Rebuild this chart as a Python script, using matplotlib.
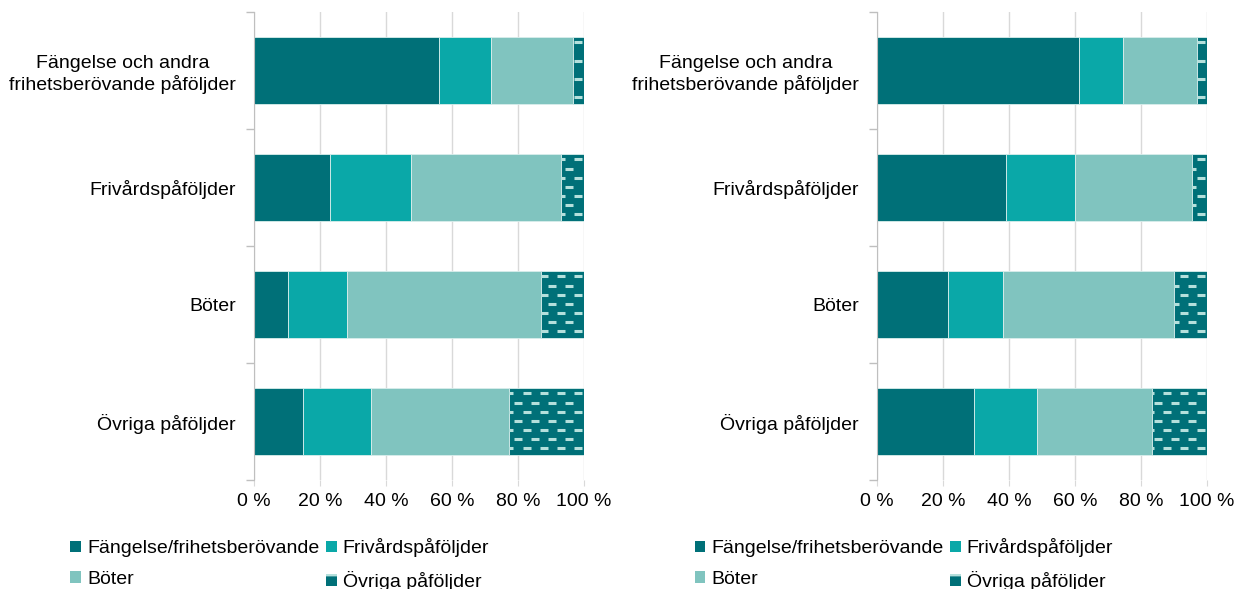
import matplotlib.pyplot as plt
from matplotlib.patches import Patch
from matplotlib.ticker import FixedLocator

plt.rcParams['font.family'] = ['Liberation Sans', 'DejaVu Sans']
plt.rcParams['hatch.linewidth'] = 2.0

categories = ["Fängelse och andra\nfrihetsberövande påföljder", "Frivårdspåföljder", "Böter", "Övriga påföljder"]
series = ["Fängelse/frihetsberövande", "Frivårdspåföljder", "Böter", "Övriga påföljder"]

# andel (%) per påföljd, vänster och höger diagram
left_fangelse = [56.2, 23.0, 10.4, 14.9]
left_frivard = [15.6, 24.6, 17.9, 20.6]
left_boter = [25.0, 45.4, 58.7, 41.9]
left_ovriga = [3.2, 7.0, 13.0, 22.6]

right_fangelse = [61.2, 39.0, 21.6, 29.5]
right_frivard = [13.3, 21.0, 16.6, 18.9]
right_boter = [22.5, 35.5, 51.9, 35.0]
right_ovriga = [3.0, 4.5, 9.9, 16.6]

xticks = [0, 20, 40, 60, 80, 100]
xticklabels = ["0 %", "20 %", "40 %", "60 %", "80 %", "100 %"]

colors = ["#007078", "#0aa8a8", "#80c4bf", "#007078"]
dash_color = "#b5e0dc"


def draw(ax, data):
    ypos = list(range(len(categories)))
    left = [0] * len(categories)
    for i, vals in enumerate(data):
        bars = ax.barh(ypos, vals, left=left, height=0.57, color=colors[i],
                       edgecolor="#d9eeec", linewidth=0.6, zorder=2)
        if i == 3:
            # streckat mönster för Övriga
            for b in bars:
                x0 = b.get_x()
                yb, yt = b.get_y(), b.get_y() + b.get_height()
                row = 0
                y = yb + 0.045
                while y < yt:
                    xs = []
                    x = 100 - 1.8 - (2.6 if row % 2 else 0)
                    while x > x0 - 3:
                        xs.append(x)
                        x -= 5.2
                    ln, = ax.plot(xs, [y] * len(xs), linestyle="none", marker="_",
                                  markersize=6, mew=2.2, color=dash_color, zorder=3)
                    ln.set_clip_path(b)
                    y += 0.078
                    row += 1
        left = [l + v for l, v in zip(left, vals)]

    ax.set_xlim(0, 100)
    ax.set_ylim(3.5, -0.5)
    ax.set_xticks(xticks)
    ax.set_xticklabels(xticklabels, fontsize=14)
    ax.set_yticks(ypos)
    ax.set_yticklabels(categories, fontsize=14)
    ax.tick_params(axis="y", length=0, pad=13)
    ax.tick_params(axis="x", length=4, color="#d9d9d9", pad=5)
    ax.yaxis.set_minor_locator(FixedLocator([-0.5, 0.5, 1.5, 2.5, 3.5]))
    ax.tick_params(axis="y", which="minor", length=6, color="#bfbfbf", width=1)
    for lab in ax.get_yticklabels():
        lab.set_horizontalalignment("right")
        lab.set_multialignment("center")
    ax.grid(axis="x", color="#d9d9d9", linewidth=1, zorder=0)
    ax.set_axisbelow(True)
    for s in ["top", "right", "bottom"]:
        ax.spines[s].set_visible(False)
    ax.spines["left"].set_color("#bfbfbf")


fig = plt.figure(figsize=(12.36, 5.89), dpi=100)
ax1 = fig.add_axes([254 / 1236, 1 - 480 / 589, 330 / 1236, 468 / 589])
ax2 = fig.add_axes([877 / 1236, 1 - 480 / 589, 330 / 1236, 468 / 589])

draw(ax1, [left_fangelse, left_frivard, left_boter, left_ovriga])
draw(ax2, [right_fangelse, right_frivard, right_boter, right_ovriga])

handles = [Patch(facecolor=colors[0]), Patch(facecolor=colors[2]),
           Patch(facecolor=colors[1]), Patch(facecolor=colors[3], hatch="-", edgecolor=dash_color, linewidth=0)]
labels = [series[0], series[2], series[1], series[3]]
for x in [0.057, 0.562]:
    fig.legend(handles, labels, ncol=2, loc="upper left", bbox_to_anchor=(x, 0.086),
               frameon=False, fontsize=14, handlelength=0.55, handleheight=0.55,
               handletextpad=0.3, columnspacing=0.35, labelspacing=0.7, borderaxespad=0,
               borderpad=0)

fig.savefig("out.png", dpi=100)
